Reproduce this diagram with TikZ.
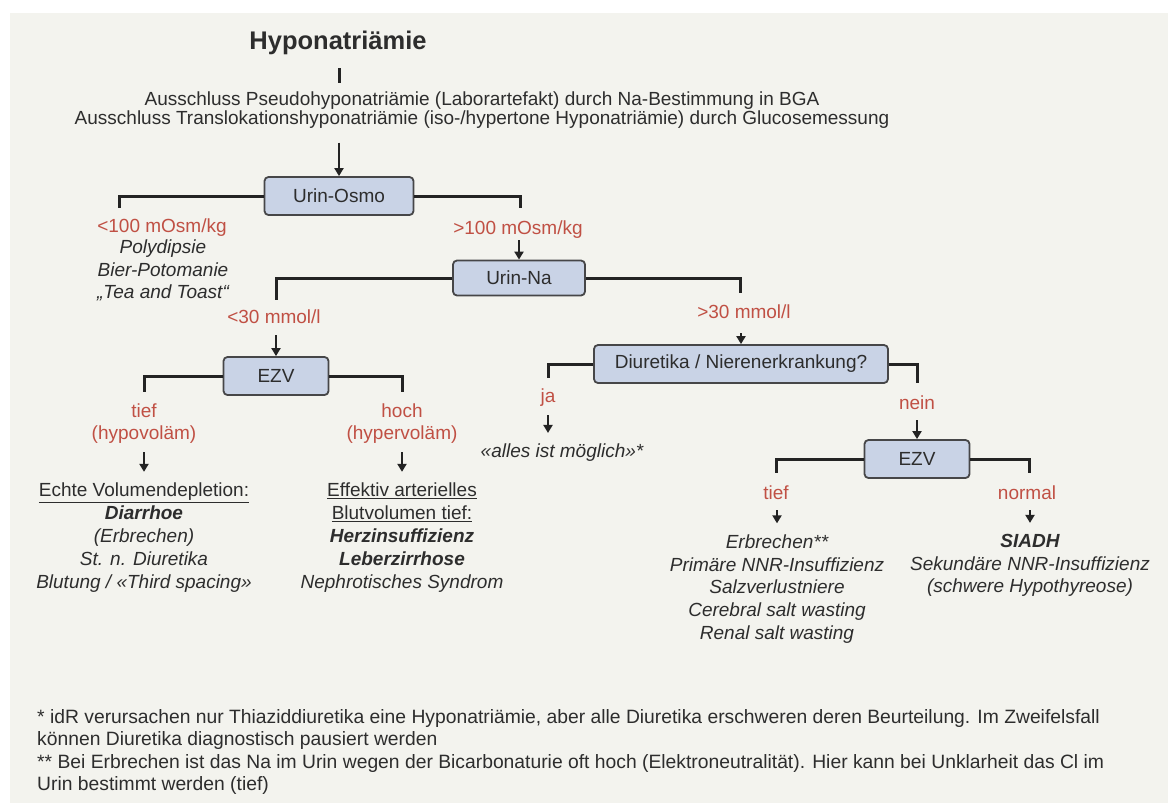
\documentclass[tikz,border=0pt]{standalone}
\usepackage{fontspec}
\setmainfont{Liberation Sans}
\usetikzlibrary{arrows.meta,calc}

\definecolor{bgcol}{RGB}{243,243,238}
\definecolor{boxfill}{RGB}{201,211,230}
\definecolor{boxline}{RGB}{70,70,72}
\definecolor{redtxt}{RGB}{192,80,68}
\definecolor{txtcol}{RGB}{45,45,45}
\definecolor{linecol}{RGB}{35,35,35}

\tikzset{
	box/.style = {draw=boxline, line width=1.8pt, fill=boxfill, rounded corners=4pt, minimum height=38pt, inner sep=0pt, text=txtcol, font=\fontsize{19}{22}\selectfont},
	lbl/.style = {text=redtxt, align=center, inner sep=0pt, font=\fontsize{19}{22}\selectfont},
	lst/.style = {text=txtcol, align=center, inner xsep=0pt, inner ysep=11pt, font=\fontsize{19}{22.8}\selectfont\itshape},
	brk/.style = {draw=linecol, line width=3pt},
	arr/.style = {draw=linecol, line width=2pt, -{Triangle[width=9pt,length=8pt]}}
}

\begin{document}
\begin{tikzpicture}[x=1pt, y=-1pt]
	\fill[white] (0,0) rectangle (1168,803);
	\fill[bgcol] (10,13) rectangle (1168,803);
	\useasboundingbox (0,0) rectangle (1168,803);
	
	% top
	\node[text=txtcol, font=\fontsize{25.5}{28}\selectfont\bfseries] (title) at (338,43) {Hyponatriämie};
	\coordinate (tickA) at (339,68);
	\coordinate (tickB) at (339,83);
	\draw[brk] (tickA) -- (tickB);
	\node[text=txtcol, align=center, inner sep=0pt, font=\fontsize{19}{19}\selectfont] (excl) at (482,110) {Ausschluss Pseudohyponatriämie (Laborartefakt) durch Na-Bestimmung in BGA\\Ausschluss Translokationshyponatriämie (iso-/hypertone Hyponatriämie) durch Glucosemessung};
	
	\node[box, minimum width=149pt] (osmo) at (339,196) {Urin-Osmo};
	\draw[arr] ($(excl.south -| osmo.north)+(0,14)$) -- (osmo.north);
	\coordinate (osmoL) at (119,208);
	\coordinate (osmoR) at (520,208);
	\draw[brk] (osmo.west) -| (osmoL);
	\draw[brk] (osmo.east) -| (osmoR);
	
	% < 100
	\node[lbl] (lo100) at (162,228) {<100 mOsm/kg};
	\node[lst, inner ysep=0pt] (trink) at (163,270.5) {Polydipsie\\Bier-Potomanie\\„Tea and Toast“};
	
	% > 100
	\node[lbl] (hi100) at (518,230) {>100 mOsm/kg};
	\node[box, minimum width=132pt, minimum height=35pt] (na) at (519,278) {Urin-Na};
	\draw[arr] ($(hi100.center -| na.north)+(0,10)$) -- (na.north);
	\coordinate (naL) at (276,300);
	\coordinate (naR) at (740,293);
	\draw[brk] (na.west) -| (naL);
	\draw[brk] (na.east) -| (naR);
	
	% < 30
	\node[lbl] (lo30) at (274,317) {<30 mmol/l};
	\node[box, minimum width=105pt] (ezvA) at (276,376) {EZV};
	\draw[arr] ($(lo30.center -| ezvA.north)+(0,18)$) -- (ezvA.north);
	\coordinate (ezvAL) at (144,392);
	\coordinate (ezvAR) at (402,392);
	\draw[brk] (ezvA.west) -| (ezvAL);
	\draw[brk] (ezvA.east) -| (ezvAR);
	
	\node[lbl] (tiefA) at (144,424) {tief\\(hypovoläm)};
	\node[lst] (volA) at (144,537.5) {\textup{\underline{Echte Volumendepletion:}}\\\textbf{Diarrhoe}\\(Erbrechen)\\St. n. Diuretika\\Blutung / «Third spacing»};
	\draw[arr] ($(tiefA.center)+(0,28)$) -- (volA.north);
	
	\node[lbl] (hochA) at (402,424) {hoch\\(hypervoläm)};
	\node[lst] (volB) at (402,537.5) {\textup{\underline{Effektiv arterielles}}\\\textup{\underline{Blutvolumen tief:}}\\\textbf{Herzinsuffizienz}\\\textbf{Leberzirrhose}\\Nephrotisches Syndrom};
	\draw[arr] ($(hochA.center)+(0,28)$) -- (volB.north);
	
	% > 30
	\node[lbl] (gt30) at (744,312) {>30 mmol/l};
	\node[box, minimum width=294pt] (diur) at (741,364) {Diuretika / Nierenerkrankung?};
	\draw[arr] ($(gt30.center -| diur.north)+(0,21)$) -- (diur.north);
	\coordinate (diurL) at (548,378);
	\coordinate (diurR) at (917,383);
	\draw[brk] (diur.west) -| (diurL);
	\draw[brk] (diur.east) -| (diurR);
	
	\node[lbl] (ja) at (548,398) {ja};
	\node[lst] (alles) at (562,453) {«alles ist möglich»*};
	\draw[arr] ($(ja.center)+(0,17)$) -- (ja.center |- alles.north);
	
	\node[lbl] (nein) at (917,403) {nein};
	\node[box, minimum width=105pt] (ezvB) at (917,459) {EZV};
	\draw[arr] ($(nein.center -| ezvB.north)+(0,17)$) -- (ezvB.north);
	\coordinate (ezvBL) at (776,473);
	\coordinate (ezvBR) at (1029,473);
	\draw[brk] (ezvB.west) -| (ezvBL);
	\draw[brk] (ezvB.east) -| (ezvBR);
	
	\node[lbl] (tiefB) at (776,493) {tief};
	\node[lst] (listC) at (777,589) {Erbrechen**\\Primäre NNR-Insuffizienz\\Salzverlustniere\\Cerebral salt wasting\\Renal salt wasting};
	\draw[arr] ($(tiefB.center -| listC.north)+(0,17)$) -- (listC.north);
	
	\node[lbl] (normB) at (1027,493) {normal};
	\node[lst] (listD) at (1030,565.5) {\textbf{SIADH}\\Sekundäre NNR-Insuffizienz\\(schwere Hypothyreose)};
	\draw[arr] ($(normB.center -| listD.north)+(0,17)$) -- (listD.north);
	
	% footnotes
	\node[anchor=west, align=left, text=txtcol, inner sep=0pt, font=\fontsize{19.3}{22.5}\selectfont] (foot) at (37,752) {* idR verursachen nur Thiaziddiuretika eine Hyponatriämie, aber alle Diuretika erschweren deren Beurteilung. Im Zweifelsfall\\können Diuretika diagnostisch pausiert werden\\** Bei Erbrechen ist das Na im Urin wegen der Bicarbonaturie oft hoch (Elektroneutralität). Hier kann bei Unklarheit das Cl im\\Urin bestimmt werden (tief)};
\end{tikzpicture}
\end{document}
